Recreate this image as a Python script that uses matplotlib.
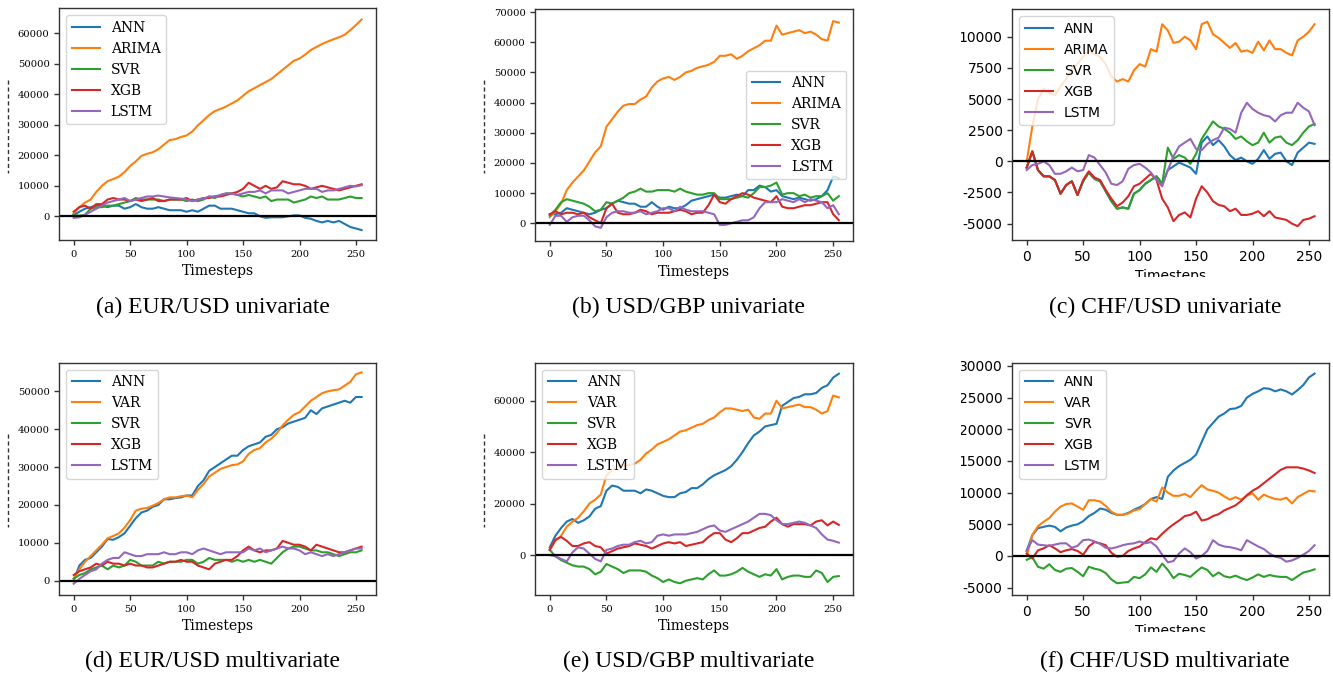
import matplotlib
matplotlib.use("Agg")
import matplotlib.pyplot as plt
from matplotlib.ticker import MultipleLocator
from matplotlib.transforms import Bbox, TransformedBbox
from matplotlib.lines import Line2D

plt.rcParams["axes.unicode_minus"] = False

W, H = 1333, 677

# timesteps sampled every 5 steps (0 .. 255)
timesteps = list(range(0, 256, 5))

uni_labels = ["ANN", "ARIMA", "SVR", "XGB", "LSTM"]
multi_labels = ["ANN", "VAR", "SVR", "XGB", "LSTM"]

# (a) EUR/USD univariate
a_ann = [500, 1500, 2500, 3000, 3500, 3500, 3000, 3500, 3500, 2500, 3000, 4000, 3000,
         2500, 2500, 3000, 2500, 2000, 2000, 2000, 1500, 2000, 1500, 2500, 3500, 3500,
         2500, 2500, 2500, 2000, 1500, 1000, 1000, 0, -500, -300, -300, -300, 0,
         300, 300, -500, -800, -1500, -2000, -1500, -2000, -1500, -2500, -3500, -4000, -4500]
a_arima = [1000, 3000, 4500, 5500, 8000, 10000, 11500, 12200, 13000, 14500, 16500, 18000, 19800,
           20500, 21000, 22000, 23500, 25000, 25300, 26000, 26500, 27800, 29800, 31500, 33200, 34500,
           35200, 36000, 37000, 38000, 39500, 41000, 42000, 43000, 44000, 45000, 46500, 48000, 49500,
           51000, 51700, 53000, 54500, 55500, 56500, 57300, 58000, 58700, 59500, 61000, 62700, 64500]
a_svr = [500, 200, 500, 2500, 3000, 3000, 3500, 3500, 4000, 4500, 5000, 6000, 5500,
         5500, 5500, 5500, 5000, 5500, 5500, 5500, 5000, 5500, 5000, 5500, 6500, 6000,
         7000, 7500, 7500, 7000, 6500, 7000, 6500, 6000, 6500, 5000, 5500, 5500, 5500,
         4500, 5000, 5500, 6500, 6000, 6500, 5500, 5500, 5500, 6000, 6500, 6000, 6000]
a_xgb = [1500, 3000, 3500, 2500, 4000, 4000, 5500, 6000, 5500, 5500, 5000, 5500, 5000,
         5500, 6000, 5000, 5000, 5500, 5500, 5500, 6000, 5000, 5500, 6000, 6000, 6500,
         6500, 7000, 7500, 8000, 9000, 11000, 10000, 9000, 10000, 9000, 9500, 11500, 11000,
         10500, 10500, 10000, 9000, 9500, 10000, 9500, 9000, 8500, 9000, 9500, 10000, 10500]
a_lstm = [-500, -300, 500, 1500, 2500, 3500, 4500, 5000, 5500, 6000, 5000, 5500, 6000,
          6500, 6500, 6800, 6500, 6200, 6000, 5800, 5500, 5000, 5500, 5800, 6500, 6500,
          7000, 7500, 7500, 7000, 7500, 8000, 8000, 8500, 7500, 8500, 8500, 8500, 7500,
          8000, 8500, 9000, 9000, 9000, 8000, 8500, 8500, 9000, 9500, 10000, 9800, 10200]

# (b) USD/GBP univariate
b_ann = [3000, 3000, 3500, 5000, 4500, 4000, 3500, 3000, 3500, 4500, 5000, 6500, 7500,
         7000, 6500, 6500, 5500, 5500, 7000, 5500, 4500, 5500, 5000, 5000, 6000, 7500,
         8000, 8500, 9000, 9500, 8500, 8500, 9000, 9500, 9000, 11000, 11000, 12500, 12000,
         10500, 11000, 9000, 8500, 8000, 8500, 8000, 7500, 8000, 9000, 11000, 15500, 15000]
b_arima = [2000, 4000, 6500, 11000, 13500, 15500, 17500, 20500, 23500, 25500, 32000, 34500, 37000,
           39000, 39500, 39500, 41000, 42000, 45000, 47000, 48000, 48500, 47500, 48500, 50000, 50500,
           51500, 52000, 52500, 53500, 55500, 55500, 56000, 54500, 55500, 57000, 58000, 59000, 60500,
           60500, 65500, 62500, 63000, 63500, 64000, 63000, 63500, 62500, 61000, 60500, 67000, 66500]
b_svr = [2500, 4500, 7000, 8000, 7500, 7000, 6500, 5500, 4000, 4500, 7000, 6500, 7500,
         8500, 10000, 10500, 11500, 10500, 10500, 11000, 11000, 11000, 10500, 11500, 10500, 10000,
         9500, 9500, 10000, 10000, 8000, 8000, 8000, 8500, 9000, 8500, 10000, 12000, 12000,
         12500, 13500, 9500, 10000, 10000, 9000, 9500, 8500, 9000, 9000, 10000, 7500, 9000]
b_xgb = [3000, 4000, 3000, 3500, 3500, 3000, 3500, 2000, 1000, 0, 5000, 6500, 3500,
         3000, 3000, 3500, 4500, 4000, 3000, 3500, 3500, 3500, 4000, 4500, 4000, 3000,
         3500, 3500, 6000, 9500, 7000, 6500, 8000, 9000, 10000, 9500, 8500, 8000, 7500,
         7000, 9000, 5500, 5000, 5000, 5500, 6000, 6000, 6500, 7000, 7000, 3000, 1000]
b_lstm = [-500, 2500, 2500, 500, 2000, 2500, 2500, 1000, -1000, -1500, 2000, 3500, 4000,
          4000, 3500, 3500, 4000, 3000, 3500, 4000, 5000, 5000, 4000, 5500, 4500, 4000,
          4000, 4000, 3500, 3000, -500, -500, 0, 500, 1000, 1000, 2000, 5000, 7000,
          7000, 7000, 8000, 7500, 7000, 8000, 7000, 8000, 7500, 7000, 5000, 6000, 3000]

# (c) CHF/USD univariate
c_ann = [-500, 800, -700, -1200, -1200, -1500, -2600, -1900, -1600, -2700, -1600, -900, -1400,
         -1600, -2400, -3200, -3800, -3700, -3800, -2600, -2300, -1800, -1500, -1200, -1800, -700,
         -400, -100, -300, -500, -1000, 1500, 2000, 1300, 1700, 1200, 500, 100, 300,
         0, -200, 200, 900, 200, 600, 700, 0, -300, 700, 1100, 1500, 1400]
c_arima = [0, 2800, 5000, 5800, 5500, 5300, 6000, 6600, 7400, 7800, 8400, 8900, 8600,
           8400, 7800, 6800, 6400, 6600, 6400, 7300, 7800, 7600, 9000, 8800, 11000, 10500,
           9500, 9600, 10000, 9700, 9000, 11000, 11200, 10200, 9900, 9500, 9100, 9500, 8800,
           8900, 8700, 9600, 8900, 9700, 9000, 9000, 8700, 8500, 9700, 10000, 10400, 11000]
c_svr = [-500, 800, -700, -1200, -1200, -1500, -2600, -1900, -1600, -2700, -1600, -900, -1400,
         -1600, -2400, -3200, -3800, -3700, -3800, -2600, -2300, -1800, -1500, -1200, -1800, 1100,
         200, 500, 300, -200, 600, 1800, 2500, 3200, 2800, 2600, 2300, 1800, 2000,
         1600, 1300, 1500, 2300, 1500, 1900, 2000, 1500, 1300, 1700, 2300, 2800, 3000]
c_xgb = [-500, 800, -700, -1200, -1200, -1500, -2600, -1900, -1600, -2700, -1500, -800, -1300,
         -1500, -2300, -3000, -3600, -3300, -2800, -2000, -1800, -1400, -1000, -1500, -3000, -3700,
         -4800, -4300, -4100, -4500, -3000, -2000, -2500, -3200, -3500, -3600, -4000, -3800, -4300,
         -4300, -4200, -4000, -4400, -4000, -4500, -4600, -4700, -5000, -5200, -4700, -4600, -4400]
c_lstm = [-700, -300, -200, 0, -300, -1000, -1000, -800, -500, -800, -700, 500, 300,
          -300, -900, -1800, -1900, -1600, -600, -300, -200, -500, -900, -1500, -2000, -700,
          400, 1200, 1500, 1800, 1000, 900, 1400, 1700, 1900, 2700, 2600, 2300, 3900,
          4700, 4200, 3900, 3700, 3600, 3200, 3700, 3900, 3900, 4700, 4300, 4000, 2900]

# (d) EUR/USD multivariate
d_ann = [0, 4000, 5500, 6000, 7500, 9000, 11000, 10800, 11500, 12500, 14500, 16500, 18000,
         18500, 19500, 20000, 21500, 21500, 21800, 22000, 22500, 22500, 25000, 26500, 29000, 30000,
         31000, 32000, 33000, 33000, 34500, 35500, 36000, 36500, 38000, 38500, 40000, 40500, 41500,
         42000, 42500, 43000, 45000, 44000, 45500, 46000, 46500, 47000, 47500, 47000, 48500, 48500]
d_var = [500, 3000, 5000, 6500, 8000, 9500, 11200, 11800, 12500, 14000, 16000, 18500, 19000,
         19200, 19800, 20500, 21500, 22000, 22000, 22300, 22500, 22000, 24000, 25500, 27500, 28500,
         29500, 30000, 30500, 30700, 31500, 33500, 34500, 35000, 36500, 37500, 39000, 41000, 42500,
         43800, 44500, 46000, 47500, 48500, 49500, 50000, 50300, 50500, 51500, 52500, 54500, 55000]
d_svr = [500, 1500, 2000, 3000, 3500, 4000, 3000, 4000, 3500, 4000, 5500, 5000, 4000,
         4000, 4000, 5000, 4500, 5000, 5000, 5000, 5500, 5500, 4500, 5000, 6000, 5500,
         5500, 5500, 5000, 5500, 5000, 5500, 5000, 5500, 5000, 4500, 6000, 7500, 8500,
         9000, 9000, 8500, 8000, 8000, 7500, 7500, 7000, 6500, 7000, 7500, 7500, 8000]
d_xgb = [1500, 2500, 3000, 3500, 4500, 4000, 5000, 4500, 4500, 4000, 4500, 4000, 4000,
         3500, 3500, 4000, 4500, 5000, 5000, 5500, 5000, 5000, 4000, 3500, 3000, 4500,
         5000, 5500, 5500, 6500, 8000, 9000, 8000, 7500, 8000, 8000, 8500, 10500, 10000,
         9500, 9500, 9000, 8000, 9500, 9000, 8500, 8000, 7500, 7500, 8000, 8500, 9000]
d_lstm = [-800, 500, 1500, 2500, 3000, 4500, 5500, 6000, 6000, 7500, 7000, 6500, 6500,
          7000, 7000, 7000, 7500, 7000, 7000, 7500, 7500, 7000, 8000, 8500, 8000, 7500,
          7000, 7500, 7500, 7500, 7500, 8500, 8000, 8500, 7500, 8000, 8500, 9000, 8500,
          8500, 8000, 7000, 7500, 7000, 6500, 7000, 6500, 7000, 7500, 8000, 8500, 8500]

# (e) USD/GBP multivariate
e_ann = [3000, 7500, 10500, 13000, 14000, 12500, 13500, 15000, 18000, 19000, 25000, 27000, 26500,
         25000, 25000, 25000, 24000, 25500, 25000, 24000, 23000, 22500, 22500, 24000, 24500, 26000,
         26000, 27500, 29500, 31000, 32000, 33000, 34500, 37000, 40000, 43500, 46500, 48000, 50000,
         50500, 51000, 58000, 59500, 61000, 61500, 62500, 62500, 63000, 65000, 66000, 69000, 70500]
e_var = [2000, 5500, 7500, 11000, 13000, 14500, 17000, 20000, 21500, 23500, 31000, 33000, 34500,
         35000, 35000, 35500, 37000, 39500, 41000, 43000, 44000, 45000, 46500, 48000, 48500, 49500,
         50500, 51000, 52500, 53500, 55500, 57000, 57000, 56500, 56000, 56500, 53500, 53000, 55000,
         55000, 60000, 57000, 57500, 58000, 58500, 57500, 57500, 56500, 55000, 56000, 62000, 61300]
e_svr = [2000, -500, -2000, -3000, -4000, -4500, -4500, -5500, -7500, -6500, -3500, -4500, -5500,
         -7000, -6000, -6000, -6000, -6500, -8000, -9000, -10500, -9500, -10500, -11000, -10000, -9500,
         -9000, -9500, -7500, -6000, -8000, -8000, -7500, -6500, -5000, -6500, -7500, -8500, -7500,
         -8000, -5500, -9500, -8500, -8000, -8000, -8500, -8500, -6000, -7000, -10500, -8500, -8200]
e_xgb = [2000, 6000, 7000, 5500, 3500, 3500, 4500, 5000, 3500, 3000, 500, 1500, 2500,
         3000, 3500, 4500, 4000, 3500, 2500, 3500, 4500, 5000, 4500, 5000, 3500, 4000,
         4500, 5000, 7000, 8500, 8500, 6000, 5000, 6500, 8500, 8500, 9500, 10500, 11000,
         13000, 14500, 12000, 11000, 12000, 12000, 12000, 11500, 13000, 13500, 11500, 13000, 11700]
e_lstm = [0, -500, -1500, -2500, 1000, 3000, 2500, 500, -1500, -2500, 2000, 2500, 3500,
          4000, 4000, 5000, 5500, 4500, 5000, 7500, 8000, 7500, 8000, 8000, 8000, 8500,
          9000, 10000, 11000, 11500, 9500, 9000, 10000, 11000, 12000, 13000, 14500, 16000, 16000,
          15500, 13500, 12000, 12000, 12500, 13000, 12500, 11500, 10500, 8000, 6000, 5500, 4800]

# (f) CHF/USD multivariate
f_ann = [800, 3300, 4400, 4600, 4800, 4600, 3900, 4500, 4800, 5000, 5500, 6300, 6800,
         7500, 7300, 6800, 6500, 6500, 6800, 7300, 7700, 8200, 9000, 9300, 9000, 12500,
         13500, 14200, 14700, 15200, 16000, 18000, 20000, 21000, 22000, 22500, 23200, 23300, 23700,
         25000, 25600, 26000, 26500, 26400, 26000, 26300, 26000, 25500, 26200, 27000, 28200, 28800]
f_var = [0, 3300, 4700, 5400, 6000, 7000, 7800, 8200, 8300, 7800, 7300, 8800, 8800,
         8600, 7900, 7000, 6500, 6500, 6700, 7200, 7400, 8200, 9000, 8600, 10800, 10000,
         9500, 9500, 9800, 9300, 10300, 11200, 10500, 10300, 10000, 9400, 8900, 9300, 8900,
         9500, 9900, 8900, 9700, 9300, 9000, 8900, 9200, 8300, 9300, 9800, 10300, 10200]
f_svr = [-600, -200, -1700, -2000, -1300, -2200, -2500, -2000, -1900, -2500, -3200, -1700, -2000,
         -2200, -2700, -3700, -4300, -4200, -4100, -3300, -3500, -2900, -1800, -2500, -1200, -2200,
         -3500, -2800, -3000, -3300, -2500, -1800, -2200, -3200, -2600, -3200, -3400, -3100, -3500,
         -3800, -3400, -2900, -3300, -3000, -3200, -3300, -3300, -3800, -3200, -2600, -2400, -2100]
f_xgb = [400, -400, 900, 1200, 1700, 1200, 600, 900, 1100, 800, 200, 1500, 2200,
         2000, 1700, 500, -100, 0, 800, 1200, 1500, 2200, 2800, 2600, 3500, 4300,
         5000, 5600, 6300, 6500, 7000, 5600, 5800, 6300, 6600, 7200, 7600, 8000, 8700,
         9600, 10300, 10800, 11500, 12200, 12900, 13600, 14000, 14000, 14000, 13800, 13500, 13100]
f_lstm = [900, 2500, 1800, 1700, 1600, 1800, 2000, 2000, 1300, 1600, 2500, 2600, 2300,
          1900, 1300, 1200, 1400, 1700, 1900, 2000, 2300, 2000, 2200, 1500, 200, -1000,
          -800, 400, 1200, 600, -400, 0, 800, 2500, 1800, 1500, 1400, 1200, 900,
          2500, 2000, 1500, 1100, 400, -100, -300, -900, -700, -300, 200, 800, 1700]

colors = ["#1f77b4", "#ff7f0e", "#2ca02c", "#d62728", "#9467bd"]

fig = plt.figure(figsize=(W / 100, H / 100), dpi=100)


def px_axes(left, top, right, bottom):
    return fig.add_axes([left / W, 1 - bottom / H, (right - left) / W, (bottom - top) / H])


def draw_panel(ax, series, labels, ylim, ystep, family, ticksize, loc):
    for vals, lab, col in zip(series, labels, colors):
        ax.plot(timesteps, vals, color=col, lw=1.5, label=lab)
    ax.axhline(0, color="black", lw=1.6)
    ax.set_xlim(-12.75, 267.75)
    ax.set_ylim(*ylim)
    ax.xaxis.set_major_locator(MultipleLocator(50))
    ax.yaxis.set_major_locator(MultipleLocator(ystep))
    ax.tick_params(labelsize=ticksize, labelfontfamily=family, color="#333333", width=1)
    for sp in ax.spines.values():
        sp.set_color("#333333")
        sp.set_linewidth(1.0)
    ax.set_xlabel("Timesteps", fontsize=10, family=family)
    ax.legend(loc=loc, prop={"family": family, "size": 10})


serif = "DejaVu Serif"
sans = "DejaVu Sans"

ax_a = px_axes(59.3, 8.3, 376, 240)
draw_panel(ax_a, [a_ann, a_arima, a_svr, a_xgb, a_lstm], uni_labels,
           (-7760, 68180), 10000, serif, 7.2, "upper left")
ax_b = px_axes(535.3, 9.3, 853.3, 240.7)
draw_panel(ax_b, [b_ann, b_arima, b_svr, b_xgb, b_lstm], uni_labels,
           (-5760, 70900), 10000, serif, 7.2, "center right")
ax_c = px_axes(1012.3, 9.3, 1329, 240)
draw_panel(ax_c, [c_ann, c_arima, c_svr, c_xgb, c_lstm], uni_labels,
           (-6311, 12197), 2500, sans, 10, "upper left")
ax_d = px_axes(59.3, 362.7, 376, 595)
draw_panel(ax_d, [d_ann, d_var, d_svr, d_xgb, d_lstm], multi_labels,
           (-3777, 57554), 10000, serif, 7.2, "upper left")
ax_e = px_axes(535.3, 362.7, 853.3, 595)
draw_panel(ax_e, [e_ann, e_var, e_svr, e_xgb, e_lstm], multi_labels,
           (-15554, 74776), 20000, serif, 7.2, "upper left")
ax_f = px_axes(1012.3, 362.7, 1329, 595)
draw_panel(ax_f, [f_ann, f_var, f_svr, f_xgb, f_lstm], multi_labels,
           (-6158, 30520), 5000, sans, 10, "upper left")

# dashed marks left of the serif panels
for x, y0, y1 in [(8.3, 80, 173), (484.3, 80, 173), (8.3, 434, 527), (484.3, 434, 527)]:
    fig.add_artist(Line2D([x / W, x / W], [1 - y0 / H, 1 - y1 / H], transform=fig.transFigure,
                          ls=(0, (3, 2)), lw=1, color="#333333"))

captions = [("(a) EUR/USD univariate", 212.5, 307), ("(b) USD/GBP univariate", 688.8, 307),
            ("(c) CHF/USD univariate", 1165, 307), ("(d) EUR/USD multivariate", 212.5, 661.7),
            ("(e) USD/GBP multivariate", 688.7, 661.7), ("(f) CHF/USD multivariate", 1165.3, 661.7)]
for txt, x, y in captions:
    fig.text(x / W, 1 - y / H, txt, ha="center", va="center", family="Liberation Serif", fontsize=17)

# the right-hand panels are cropped on the left and bottom
fig.canvas.draw()
for ax, top, bottom in [(ax_c, 0, 277.3), (ax_f, 338, 632.3)]:
    box = TransformedBbox(Bbox.from_extents(961 / W, 1 - bottom / H, 1, 1 - top / H), fig.transFigure)
    texts = [t.label1 for t in ax.xaxis.get_major_ticks()] + [t.label1 for t in ax.yaxis.get_major_ticks()]
    texts.append(ax.xaxis.label)
    for t in texts:
        t.set_clip_box(box)
        t.set_clip_on(True)

fig.savefig("out.png", dpi=100)
